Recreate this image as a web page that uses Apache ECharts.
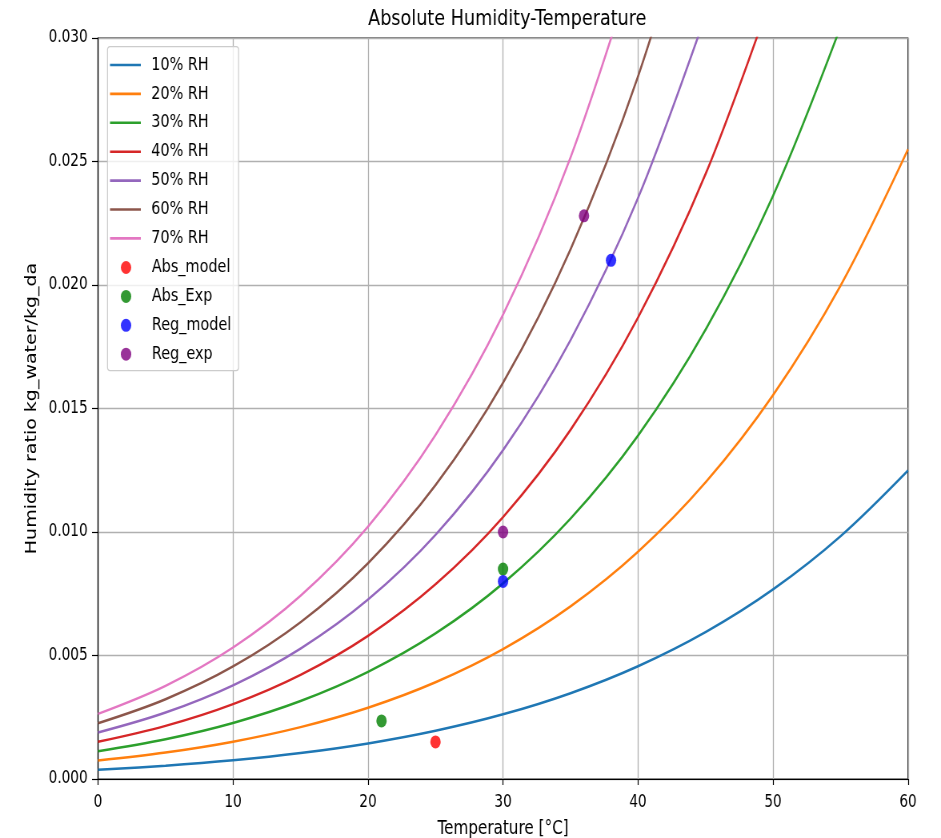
<!DOCTYPE html>
<html><head><meta charset="utf-8">
<script src="https://cdn.jsdelivr.net/npm/echarts@6/dist/echarts.min.js"></script>
<style>
html,body{margin:0;padding:0;background:#fff;overflow:hidden;width:941px;height:838px}
#c{width:1176px;height:838px;transform:scaleX(0.80017);transform-origin:0 0}
</style>
</head><body><div id="c"></div>
<script>
const temps = [0, 5, 10, 15, 20, 25, 30, 35, 40, 45, 50, 55, 60];
const rh10 = [0.000375, 0.000536, 0.000755, 0.001049, 0.001439, 0.001952, 0.002618, 0.003474, 0.004566, 0.005946, 0.007675, 0.009828, 0.01249];
const rh20 = [0.000751, 0.001073, 0.001512, 0.002101, 0.002885, 0.003916, 0.005258, 0.006988, 0.0092, 0.012007, 0.015543, 0.019972, 0.025492];
const rh30 = [0.001128, 0.001611, 0.00227, 0.003157, 0.004338, 0.005893, 0.00792, 0.010541, 0.013903, 0.018186, 0.023609, 0.030446];
const rh40 = [0.001505, 0.00215, 0.003031, 0.004217, 0.005797, 0.007882, 0.010605, 0.014135, 0.018677, 0.024486, 0.031882];
const rh50 = [0.001882, 0.00269, 0.003793, 0.00528, 0.007264, 0.009883, 0.013314, 0.01777, 0.023522, 0.030912];
const rh60 = [0.00226, 0.003231, 0.004557, 0.006347, 0.008737, 0.011898, 0.016045, 0.021446, 0.028442, 0.037467];
const rh70 = [0.002638, 0.003772, 0.005323, 0.007417, 0.010217, 0.013925, 0.0188, 0.025165, 0.033437];
const absModel = [[25, 0.0015]];
const absExp = [[21, 0.00235], [30, 0.0085]];
const regModel = [[30, 0.0080], [38, 0.0210]];
const regExp = [[30, 0.0100], [36, 0.0228]];
const xTicks = [0, 10, 20, 30, 40, 50, 60];

const lineNames = ['10% RH','20% RH','30% RH','40% RH','50% RH','60% RH','70% RH'];
const lineData = [rh10, rh20, rh30, rh40, rh50, rh60, rh70];
const lineColors = ['#1f77b4','#ff7f0e','#2ca02c','#d62728','#9467bd','#8c564b','#e377c2'];
const scNames = ['Abs_model','Abs_Exp','Reg_model','Reg_exp'];
const scData = [absModel, absExp, regModel, regExp];
const scColors = ['#ff0000','#008000','#0000ff','#800080'];

const FONT = 'DejaVu Sans';
const series = lineNames.map((n, i) => ({
  name: n, type: 'line', symbol: 'none', smooth: 0.35, clip: true,
  data: lineData[i].map((v, j) => [temps[j], v]),
  lineStyle: { width: 2.5, color: lineColors[i] }, itemStyle: { color: lineColors[i] }
}));
scNames.forEach((n, i) => series.push({
  name: n, type: 'scatter', data: scData[i], symbol: 'circle', symbolSize: 13,
  itemStyle: { color: scColors[i] }, z: 5
}));

const legendCommon = {
  orient: 'vertical', padding: 0, selectedMode: false,
  itemWidth: 38.5, itemGap: 10.9,
  textStyle: { fontFamily: FONT, fontSize: 18, color: '#000', padding: [0, 0, 0, 8] }
};

const chart = echarts.init(document.getElementById('c'), null, { renderer: 'canvas' });
chart.setOption({
  animation: false,
  backgroundColor: '#fff',
  title: { text: 'Absolute Humidity-Temperature', left: 629, top: 3, textAlign: 'center',
    textStyle: { fontFamily: FONT, fontSize: 22, fontWeight: 'normal', color: '#000' } },
  grid: { left: 122.5, right: 41.25, top: 38, bottom: 59, show: true, borderColor: '#000', borderWidth: 1.2,
    containLabel: false, outerBoundsMode: 'none' },
  xAxis: { type: 'value', min: 0, max: 60, interval: 10,
    name: 'Temperature [°C]', nameLocation: 'middle', nameGap: 41,
    nameTextStyle: { fontFamily: FONT, fontSize: 19, color: '#000' },
    axisLine: { lineStyle: { color: '#000', width: 1.2 } },
    axisTick: { show: true, length: 6, lineStyle: { color: '#000', width: 1.2 } },
    axisLabel: { fontFamily: FONT, fontSize: 17, color: '#000', margin: 15 },
    splitLine: { show: true, lineStyle: { color: '#b0b0b0', width: 1.3 } } },
  yAxis: { type: 'value', min: 0, max: 0.03, interval: 0.005,
    name: 'Humidity ratio kg_water/kg_da', nameLocation: 'middle', nameGap: 73, nameRotate: 90,
    nameTextStyle: { fontFamily: FONT, fontSize: 19, color: '#000' },
    axisLine: { lineStyle: { color: '#000', width: 1.2 } },
    axisTick: { show: true, length: 7.5, lineStyle: { color: '#000', width: 1.2 } },
    axisLabel: { fontFamily: FONT, fontSize: 17, color: '#000', margin: 13, formatter: v => v.toFixed(3) },
    splitLine: { show: true, lineStyle: { color: '#b0b0b0', width: 1.3 } } },
  graphic: [{ type: 'rect', left: 133.75, top: 46, z: 3,
    shape: { width: 163.75, height: 324, r: 3 },
    style: { fill: 'rgba(255,255,255,0.8)', stroke: '#cccccc', lineWidth: 1.2 } }],
  legend: [
    Object.assign({}, legendCommon, { left: 137.5, top: 56, itemHeight: 2.6, icon: 'rect', data: lineNames }),
    Object.assign({}, legendCommon, { left: 151, top: 258.5, itemHeight: 13, icon: 'circle', data: scNames })
  ],
  series: series
});
</script></body></html>
